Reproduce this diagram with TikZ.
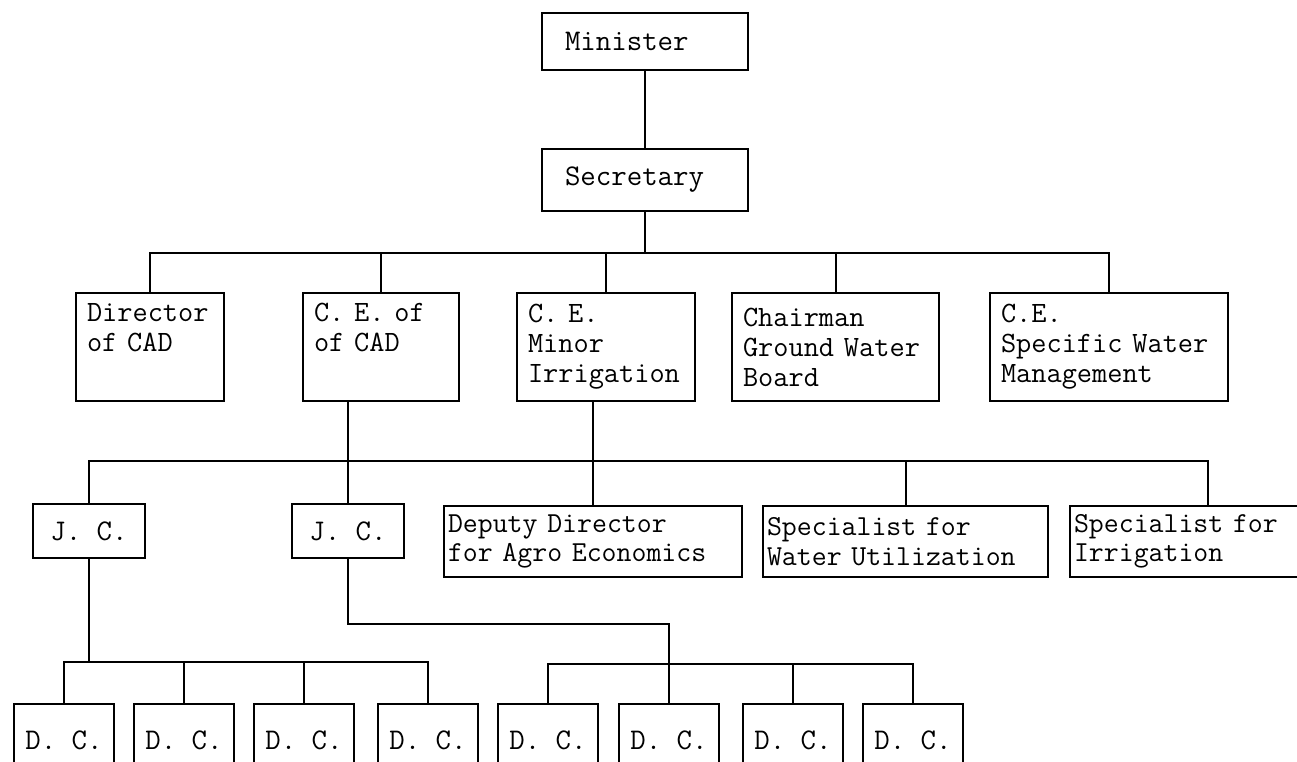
\documentclass[tikz,border=0pt]{standalone}
\usepackage{fontspec}

\begin{document}
\begin{tikzpicture}[x=1pt, y=-1pt, line width=2pt,
    post/.style={draw, font=\ttfamily\fontsize{30}{30}\selectfont, inner ysep=0pt},
    headpost/.style={post, align=left, inner xsep=23pt, text width=160pt},
    deptpost/.style={post, anchor=north west, align=left, inner xsep=11pt, minimum height=108pt,
        font=\ttfamily\fontsize{29.5}{30}\selectfont},
    jcpost/.style={post, minimum width=112pt, minimum height=54pt},
    unitpost/.style={post, align=left, inner xsep=4pt, minimum height=71pt,
        font=\ttfamily\fontsize{29}{29.5}\selectfont},
    dcpost/.style={post, minimum width=100pt, minimum height=72pt}]

    \useasboundingbox (0,0) rectangle (1297,761);

    % --- TOP: MINISTER AND SECRETARY ---
    \node[headpost, minimum height=57pt] (minister) at (645,41.5) {Minister};
    \node[headpost, minimum height=62pt] (secretary) at (645,180) {Secretary};
    \draw (minister) -- (secretary);

    % --- SECOND LEVEL: HEADS UNDER THE SECRETARY ---
    \node[deptpost, text width=126pt] (director) at (75,292) {Director\\of CAD\\\strut};
    \node[deptpost, text width=134pt] (cecad) at (302,292) {C. E. of\\of CAD\\\strut};
    \node[deptpost, text width=156pt] (ceminor) at (516,292) {C. E.\\Minor\\Irrigation};
    \node[deptpost, text width=185pt] (chairman) at (731,292) {Chairman\\Ground Water\\Board};
    \node[deptpost, text width=216pt] (cespec) at (989,292) {C.E.\\Specific Water\\Management};

    % Bus below the Secretary
    \coordinate (bus1) at (0,253);
    \draw (secretary.south) -- (secretary.south |- bus1);
    \draw (director.north) |- (cespec.north |- bus1) -- (cespec.north);
    \draw (cecad.north) -- (cecad.north |- bus1);
    \draw (ceminor.north) -- (ceminor.north |- bus1);
    \draw (chairman.north) -- (chairman.north |- bus1);

    % --- THIRD LEVEL: J. C. AND SPECIALISTS ---
    \node[jcpost] (jc1) at (89,531) {J. C.};
    \node[jcpost] (jc2) at (348,531) {J. C.};
    \node[unitpost, text width=290pt] (deputy) at (593,541.5) {Deputy Director\\for Agro Economics};
    \node[unitpost, text width=277pt] (specwu) at (905.5,541.5) {Specialist for\\Water Utilization};
    \node[unitpost, text width=268pt] (specirr) at (1208,541.5) {Specialist for\\Irrigation};

    % Bus below the second level
    \coordinate (bus2) at (0,461);
    \draw (jc1.north) |- (specirr.north |- bus2) -- (specirr.north);
    \draw (jc2.north) -- (jc2.north |- cecad.south);
    \draw (deputy.north) -- (deputy.north |- ceminor.south);
    \draw (specwu.north) -- (specwu.north |- bus2);

    % --- BOTTOM: D. C. OFFICES ---
    \node[dcpost] (dc1) at (64,740) {D. C.};
    \node[dcpost] (dc2) at (184,740) {D. C.};
    \node[dcpost] (dc3) at (304,740) {D. C.};
    \node[dcpost] (dc4) at (428,740) {D. C.};
    \node[dcpost] (dc5) at (548,740) {D. C.};
    \node[dcpost] (dc6) at (669,740) {D. C.};
    \node[dcpost] (dc7) at (793,740) {D. C.};
    \node[dcpost] (dc8) at (913,740) {D. C.};

    % Under the first J. C.
    \coordinate (bus3) at (0,662);
    \draw (jc1.south) -- (jc1.south |- bus3);
    \draw (dc1.north) |- (dc4.north |- bus3) -- (dc4.north);
    \draw (dc2.north) -- (dc2.north |- bus3);
    \draw (dc3.north) -- (dc3.north |- bus3);

    % Under the second J. C.
    \coordinate (jog) at (0,624);
    \coordinate (bus4) at (0,664);
    \draw (jc2.south) |- (dc6.north |- jog) -- (dc6.north);
    \draw (dc5.north) |- (dc8.north |- bus4) -- (dc8.north);
    \draw (dc7.north) -- (dc7.north |- bus4);
\end{tikzpicture}
\end{document}
